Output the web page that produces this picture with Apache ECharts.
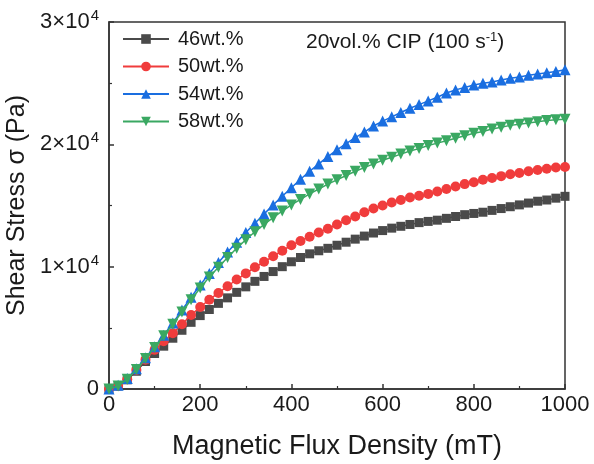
<!DOCTYPE html>
<html>
<head>
<meta charset="utf-8">
<script src="https://cdn.jsdelivr.net/npm/echarts@6/dist/echarts.min.js"></script>
<style>
  html, body { margin: 0; padding: 0; background: #fff; }
  #chart { width: 594px; height: 464px; }
</style>
</head>
<body>
<div id="chart"></div>
<script>
// Magnetic flux density (mT), sampled every 20 mT
const fluxDensity = [0, 20, 40, 60, 80, 100, 120, 140, 160, 180, 200, 220, 240, 260, 280, 300, 320, 340, 360, 380,
  400, 420, 440, 460, 480, 500, 520, 540, 560, 580, 600, 620, 640, 660, 680, 700, 720, 740, 760, 780,
  800, 820, 840, 860, 880, 900, 920, 940, 960, 980, 1000];

const seriesNames = ['46wt.%', '50wt.%', '54wt.%', '58wt.%'];

// Shear stress (Pa)
const stress46 = [0, 250, 750, 1450, 2250, 2900, 3500, 4150, 4800, 5450, 6000, 6500, 7000, 7450, 7900, 8350, 8800, 9200, 9600, 10000,
  10400, 10750, 11050, 11300, 11500, 11750, 12000, 12250, 12500, 12750, 12950, 13150, 13300, 13450, 13600, 13700, 13800, 13950, 14100, 14250,
  14350, 14450, 14600, 14750, 14900, 15050, 15200, 15350, 15450, 15600, 15750];

const stress50 = [0, 250, 800, 1550, 2400, 3200, 3900, 4550, 5300, 6050, 6700, 7300, 7850, 8400, 8950, 9450, 9950, 10400, 10850, 11300,
  11750, 12100, 12450, 12800, 13100, 13450, 13800, 14100, 14450, 14750, 15000, 15250, 15450, 15650, 15800, 15950, 16150, 16350, 16550, 16750,
  16900, 17100, 17250, 17400, 17550, 17650, 17800, 17900, 18000, 18100, 18150];

const stress54 = [0, 300, 850, 1650, 2550, 3450, 4400, 5400, 6450, 7500, 8500, 9450, 10350, 11200, 12000, 12800, 13550, 14300, 15050, 15750,
  16450, 17150, 17800, 18400, 19000, 19550, 20050, 20550, 21000, 21500, 21900, 22250, 22600, 22950, 23250, 23550, 23850, 24200, 24450, 24650,
  24850, 25000, 25100, 25250, 25400, 25500, 25650, 25750, 25850, 25950, 26100];

const stress58 = [0, 250, 800, 1600, 2500, 3400, 4350, 5300, 6300, 7300, 8250, 9150, 9950, 10750, 11500, 12200, 12850, 13450, 14000, 14550,
  15050, 15500, 15950, 16350, 16750, 17100, 17450, 17800, 18100, 18400, 18700, 18950, 19200, 19450, 19650, 19900, 20100, 20300, 20500, 20700,
  20900, 21050, 21250, 21400, 21550, 21650, 21750, 21850, 21950, 22000, 22050];

// Y-axis tick labels written as mantissa and exponent
const yTickLabels = { 0: ['0', ''], 10000: ['1×10', '4'], 20000: ['2×10', '4'], 30000: ['3×10', '4'] };

const palette = ['#4a4a4a', '#f03c3c', '#1a6ee0', '#3aa862'];
const symbols = ['rect', 'circle', 'triangle', 'path://M0,0 L10,0 L5,9 Z'];
const symbolSizes = [9, 10, 11, 11];
const stressSets = [stress46, stress50, stress54, stress58];

const chart = echarts.init(document.getElementById('chart'), null, { renderer: 'canvas' });

const series = seriesNames.map((name, i) => ({
  name: name,
  type: 'line',
  data: fluxDensity.map((x, k) => [x, stressSets[i][k]]),
  symbol: symbols[i],
  symbolSize: symbolSizes[i],
  showAllSymbol: true,
  lineStyle: { color: palette[i], width: 1.5 },
  itemStyle: { color: palette[i] },
  emphasis: { disabled: true },
  z: 2 + i
}));

const font = 'Liberation Sans, Arial, sans-serif';
const ink = '#1a1a1a';

chart.setOption({
  animation: false,
  backgroundColor: '#ffffff',
  grid: {
    left: 109, right: 29, top: 22, bottom: 75,
    outerBoundsMode: 'none',
    containLabel: false,
    show: true, borderColor: '#333', borderWidth: 1.5, backgroundColor: 'transparent'
  },
  legend: {
    data: seriesNames,
    orient: 'vertical',
    left: 117,
    top: 24,
    itemWidth: 46,
    itemHeight: 12,
    itemGap: 7.5,
    textStyle: { fontFamily: font, color: ink, fontSize: 20, padding: [0, 0, 0, 4] }
  },
  xAxis: {
    type: 'value',
    min: 0, max: 1000, interval: 200,
    name: 'Magnetic Flux Density (mT)',
    nameLocation: 'middle',
    nameGap: 44,
    nameTextStyle: { fontFamily: font, color: ink, fontSize: 27 },
    axisLine: { show: true, onZero: false, lineStyle: { color: '#333', width: 1.5 } },
    axisTick: { show: true, inside: true, length: 5, lineStyle: { color: '#333', width: 1.5 } },
    minorTick: { show: true, splitNumber: 2, length: 3, lineStyle: { color: '#333', width: 1.2 } },
    splitLine: { show: false },
    axisLabel: {
      fontFamily: font, color: ink, fontSize: 22, margin: 5,
      formatter: function (v) { return String(v); }
    }
  },
  yAxis: {
    type: 'value',
    min: 0, max: 30000, interval: 10000,
    name: 'Shear Stress σ (Pa)',
    nameLocation: 'middle',
    nameGap: 68,
    nameRotate: 90,
    nameTextStyle: { fontFamily: font, color: ink, fontSize: 25 },
    axisLine: { show: true, onZero: false, lineStyle: { color: '#333', width: 1.5 } },
    axisTick: { show: true, inside: true, length: 5, lineStyle: { color: '#333', width: 1.5 } },
    minorTick: { show: true, splitNumber: 2, length: 3, lineStyle: { color: '#333', width: 1.2 } },
    splitLine: { show: false },
    axisLabel: {
      margin: 10,
      formatter: function (v) {
        const t = yTickLabels[v] || [String(v), ''];
        return t[1] ? '{b|' + t[0] + '}{s|' + t[1] + '}' : '{b|' + t[0] + '}';
      },
      rich: {
        b: { fontFamily: font, color: ink, fontSize: 22 },
        s: { fontFamily: font, color: ink, fontSize: 15, padding: [0, 0, 12, 1] }
      }
    }
  },
  graphic: [{
    type: 'text',
    left: 306,
    top: 31,
    style: {
      text: '{a|20vol.% CIP (100 s}{s|-1}{a|)}',
      rich: {
        a: { fontFamily: font, fontSize: 21, fill: ink },
        s: { fontFamily: font, fontSize: 13, fill: ink, padding: [0, 0, 10, 0] }
      }
    },
    z: 10
  }],
  series: series
});
</script>
</body>
</html>
